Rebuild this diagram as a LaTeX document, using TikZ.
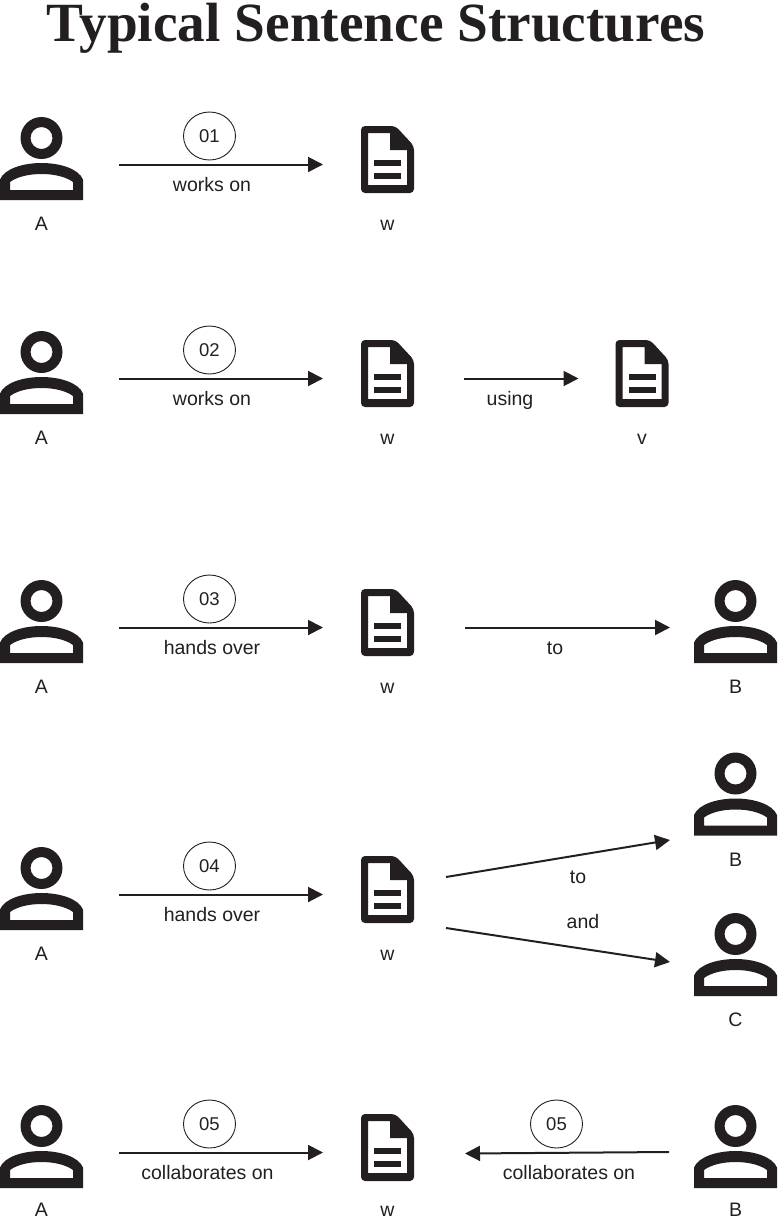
\documentclass[tikz,border=0pt]{standalone}
\usepackage{fontspec}
\setmainfont{Liberation Sans}
\newfontfamily\titlefont{Liberation Serif}
\usetikzlibrary{arrows.meta,shapes.geometric}
\definecolor{ink}{HTML}{231F20}

\tikzset{
  person/.style={minimum width=83pt,minimum height=95pt,inner sep=0pt,outer sep=0pt,
    path picture={
      \begin{scope}[shift={(path picture bounding box.center)}]
        % head
        \fill[ink,even odd rule] (0,-26.5) circle (21pt) (0,-26.5) circle (11pt);
        % body
        \fill[ink,even odd rule]
          (-41.5,35.5) -- (-41.5,15) .. controls (-37,4) and (-18,-1.5) .. (0,-1.5)
          .. controls (18,-1.5) and (37,4) .. (41.5,15) -- (41.5,35.5) -- cycle
          (-31.5,25.5) -- (-31.5,17.5) .. controls (-24,12) and (-12,9.5) .. (0,9.5)
          .. controls (12,9.5) and (24,12) .. (31.5,17.5) -- (31.5,25.5) -- cycle;
      \end{scope}
    }},
  document/.style={minimum width=53pt,minimum height=77pt,inner sep=0pt,outer sep=0pt,
    path picture={
      \begin{scope}[shift={(path picture bounding box.center)}]
        % sheet with folded corner
        \fill[ink,even odd rule,rounded corners=4pt]
          (-26.5,-38.5) -- (8,-38.5) -- (26.5,-18.5) -- (26.5,28.5) -- (-26.5,28.5) -- cycle
          [sharp corners] (-19.5,-31.5) -- (2.5,-31.5) -- (2.5,-14.5) -- (19.5,-14.5)
          -- (19.5,20.5) -- (-19.5,20.5) -- cycle;
        % text bars
        \fill[ink] (-13.5,-4.5) rectangle (13.5,1.5);
        \fill[ink] (-13.5,8.5) rectangle (13.5,14.5);
      \end{scope}
    }},
  tag/.style={anchor=base,text=ink,font=\fontsize{19.5}{22}\selectfont,inner sep=0pt},
  badge/.style={draw=ink,line width=0.9pt,ellipse,minimum width=52pt,minimum height=48pt,
    inner sep=0pt,text=ink,font=\fontsize{18.5}{22}\selectfont},
  link/.style={draw=ink,line width=2pt,-{Triangle[length=15pt,width=15pt]}}
}

\begin{document}
\begin{tikzpicture}[x=1pt,y=-1pt]

      \useasboundingbox (0,0) rectangle (777,1219);

      % Title
      \node[anchor=base,text=ink,inner sep=0pt,font=\titlefont\bfseries\fontsize{55.3}{60}\selectfont]
        (title) at (376,41) {Typical Sentence Structures};

      % People
      \foreach \id/\cx/\cy/\txt in {a1/41.5/164.5/A, a2/41.5/378.5/A, a3/41.5/627.5/A,
          a4/41.5/894.5/A, a5/41.5/1152.5/A, b3/735.5/627.5/B, b4/735.5/800/B,
          c4/735.5/960.5/C, b5/735.5/1152.5/B}
      {
          \node[person] (\id) at (\cx,\cy) {};
          \node[tag] (\id tag) at (\cx,{min(\cy+66,1216.5)}) {\txt};
      }

      % Documents
      \foreach \id/\cx/\cy/\txt in {w1/387.5/164.5/w, w2/387.5/378.5/w, v2/642/378.5/v,
          w3/387.5/627.5/w, w4/387.5/894.5/w, w5/387.5/1152.5/w}
      {
          \node[document] (\id) at (\cx,\cy) {};
          \node[tag] (\id tag) at (\cx,{min(\cy+66,1216.5)}) {\txt};
      }

      % Numbered badges
      \foreach \id/\cx/\cy/\txt in {n1/209.5/136/01, n2/209.5/350/02, n3/209.5/599/03,
          n4/209.5/866/04, n5/209.5/1124/05, m5/556.5/1124/05}
          \node[badge] (\id) at (\cx,\cy) {\txt};

      % Arrows
      \draw[link,shorten <=36pt,shorten >=38pt] (a1) -- (w1);
      \draw[link,shorten <=36pt,shorten >=38pt] (a2) -- (w2);
      \draw[link,shorten <=50pt,shorten >=37pt] (w2) -- (v2);
      \draw[link,shorten <=36pt,shorten >=38pt] (a3) -- (w3);
      \draw[link,shorten <=51pt,shorten >=24pt] (w3) -- (b3);
      \draw[link,shorten <=36pt,shorten >=38pt] (a4) -- (w4);
      \draw[link,shorten <=36pt,shorten >=38pt] (a5) -- (w5);

      % the two splitting arrows of row 4
      \coordinate (w4up) at (446,877);
      \coordinate (b4in) at (670,840);
      \coordinate (w4down) at (446,928);
      \coordinate (c4in) at (670,962);
      \draw[link] (w4up) -- (b4in);
      \draw[link] (w4down) -- (c4in);

      % the slightly tilted arrow of row 5
      \coordinate (b5out) at (669,1152);
      \coordinate (w5in) at (465,1153.5);
      \draw[link] (b5out) -- (w5in);

      % Arrow labels
      \foreach \id/\cx/\cy/\txt in {l1/212/191.5/works on, l2/212/405.5/works on, l3/510/405.5/using,
          l4/212/654.5/hands over, l5/555/654.5/to, l6/212/921.5/hands over, l7/578/883.5/to,
          l8/583/928.5/and, l9/207.5/1179.5/collaborates on, l10/569/1179.5/collaborates on}
          \node[tag] (\id) at (\cx,\cy) {\txt};

\end{tikzpicture}
\end{document}
